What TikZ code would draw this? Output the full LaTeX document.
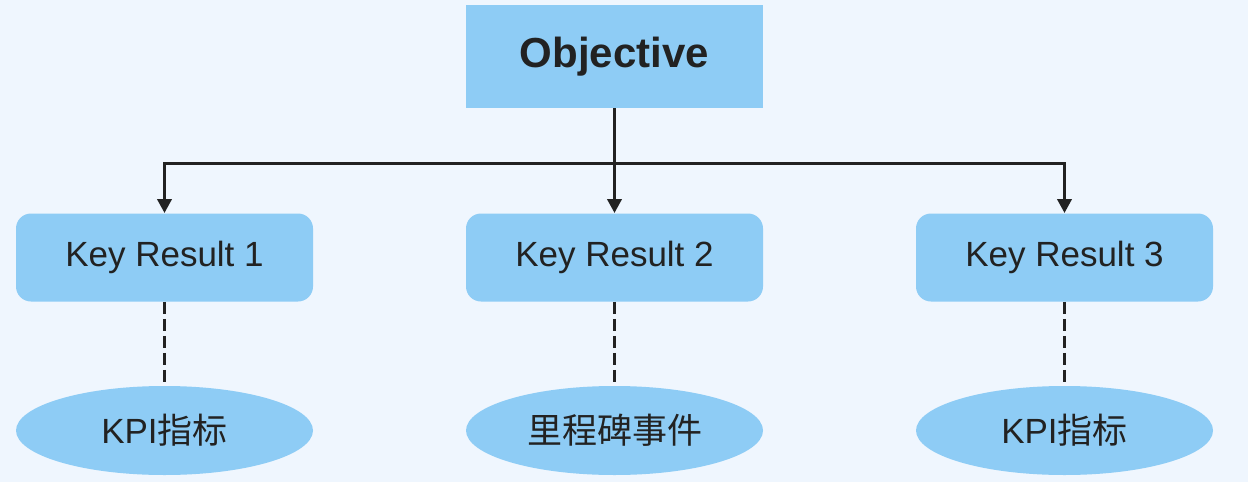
\documentclass[tikz,border=0pt]{standalone}
\usepackage{fontspec}
\setmainfont{Liberation Sans}
\newfontfamily\cjk{Noto Sans CJK SC}
\usetikzlibrary{arrows.meta,%
                shapes.geometric}
\definecolor{pagebg}{HTML}{EFF6FE}
\definecolor{boxblue}{HTML}{8ECCF5}
\definecolor{ink}{HTML}{222222}

\begin{document}
\begin{tikzpicture}[x=0.5pt, y=-0.5pt]
    \fill[pagebg] (0,0) rectangle (1248,482);
    \useasboundingbox (0,0) rectangle (1248,482);
    \tikzstyle{ObjStyle}=[fill=boxblue, text=ink, minimum width=148.5pt,
                          minimum height=51.5pt, inner sep=0pt,
                          font=\fontsize{21}{24}\selectfont\bfseries]
    \tikzstyle{KRStyle}=[fill=boxblue, text=ink, rounded corners=7.5pt,
                         minimum width=148.5pt, minimum height=44pt,
                         inner sep=0pt, font=\fontsize{17.5}{20}\selectfont]
    \tikzstyle{EllStyle}=[ellipse, fill=boxblue, text=ink,
                          minimum width=148.5pt, minimum height=44.5pt,
                          inner sep=0pt, font=\fontsize{17.5}{20}\selectfont]
    \tikzstyle{FlowStyle}=[draw=ink, line width=1.8pt,
                           -{Triangle[width=7pt,length=7pt]}]
    \tikzstyle{DashStyle}=[draw=ink, line width=1.8pt,
                           dash pattern=on 6pt off 2.5pt]
    % top
    \node[ObjStyle] (obj) at (614.5,56.5) {Objective};
    % key results
    \node[KRStyle] (kr1) at (164.5,257.5) {Key Result 1};
    \node[KRStyle] (kr2) at (614.5,257.5) {Key Result 2};
    \node[KRStyle] (kr3) at (1064.5,257.5) {Key Result 3};
    % measures
    \node[EllStyle] (m1) at (164.5,430.5) {KPI{\cjk 指标}};
    \node[EllStyle] (m2) at (614.5,430.5) {\cjk 里程碑事件};
    \node[EllStyle] (m3) at (1064.5,430.5) {KPI{\cjk 指标}};
    % connectors
    \draw[FlowStyle] (obj.south) -- ++(0,55) -| (kr1.north);
    \draw[FlowStyle] (obj.south) -- (kr2.north);
    \draw[FlowStyle] (obj.south) -- ++(0,55) -| (kr3.north);
    \draw[DashStyle] (kr1.south) -- (m1.north);
    \draw[DashStyle] (kr2.south) -- (m2.north);
    \draw[DashStyle] (kr3.south) -- (m3.north);
\end{tikzpicture}
\end{document}
